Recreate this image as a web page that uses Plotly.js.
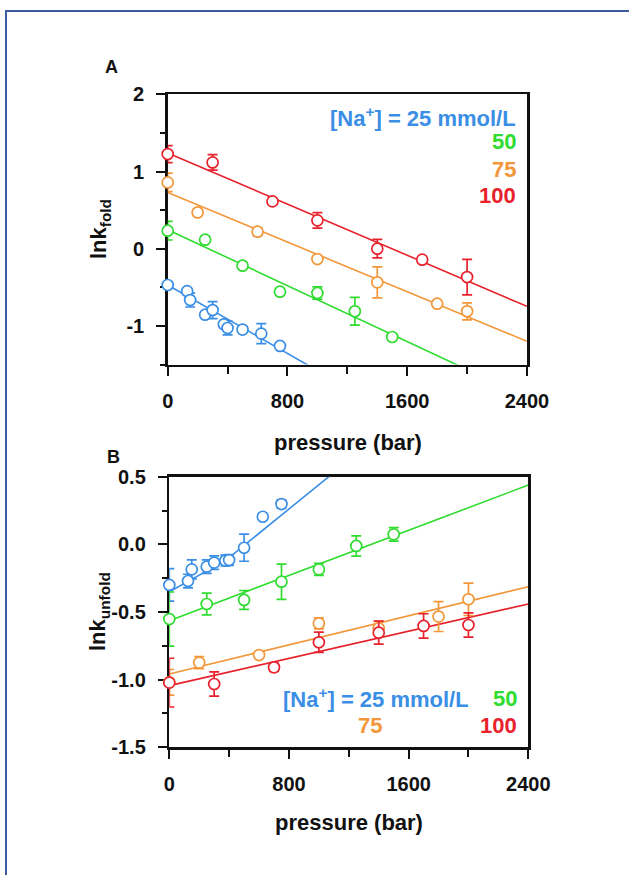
<!DOCTYPE html>
<html>
<head>
<meta charset="utf-8">
<script src="https://cdn.plot.ly/plotly-3.0.1.min.js"></script>
<style>
  html, body { margin: 0; padding: 0; background: #fff; }
  #chart { width: 629px; height: 875px; }
</style>
</head>
<body>
<div id="chart"></div>
<script>
// ---------- Panel A: ln k_fold ----------
const a25_x = [0, 130, 150, 250, 300, 375, 400, 500, 625, 750];
const a25_y = [-0.47, -0.55, -0.665, -0.855, -0.795, -0.98, -1.027, -1.048, -1.10, -1.26];
const a25_e = [0.04, 0.04, 0.09, 0.03, 0.11, 0.04, 0.09, 0.03, 0.13, 0.04];

const a50_x = [0, 250, 500, 750, 1000, 1250, 1500];
const a50_y = [0.233, 0.117, -0.22, -0.557, -0.574, -0.811, -1.144];
const a50_e = [0.12, 0.04, 0.02, 0.02, 0.08, 0.18, 0.02];

const a75_x = [0, 200, 600, 1000, 1400, 1800, 2000];
const a75_y = [0.859, 0.47, 0.22, -0.134, -0.436, -0.712, -0.811];
const a75_e = [0.12, 0.04, 0.05, 0.02, 0.20, 0.02, 0.11];

const a100_x = [0, 300, 700, 1000, 1400, 1700, 2000];
const a100_y = [1.226, 1.118, 0.613, 0.367, 0.0, -0.142, -0.367];
const a100_e = [0.11, 0.10, 0.04, 0.10, 0.12, 0.03, 0.23];

// fit lines, panel A
const fitA_x = [0, 2400];
const fitA25_y = [-0.47, -3.13];
const fitA50_y = [0.246, -1.928];
const fitA75_y = [0.729, -1.2];
const fitA100_y = [1.239, -0.747];

// ---------- Panel B: ln k_unfold ----------
const b25_x = [0, 125, 150, 250, 300, 375, 400, 500, 625, 750];
const b25_y = [-0.30, -0.271, -0.185, -0.165, -0.135, -0.12, -0.116, -0.025, 0.204, 0.298];
const b25_e = [0.12, 0.05, 0.07, 0.05, 0.05, 0.04, 0.04, 0.10, 0.02, 0.03];

const b50_x = [0, 250, 500, 750, 1000, 1250, 1500];
const b50_y = [-0.552, -0.441, -0.411, -0.276, -0.185, -0.012, 0.074];
const b50_e = [0.20, 0.08, 0.07, 0.13, 0.045, 0.075, 0.05];

const b75_x = [0, 200, 600, 1000, 1400, 1800, 2000];
const b75_y = [-1.02, -0.874, -0.818, -0.584, -0.62, -0.534, -0.406];
const b75_e = [0.095, 0.045, 0.02, 0.04, 0.05, 0.11, 0.12];

const b100_x = [0, 300, 700, 1000, 1400, 1700, 2000];
const b100_y = [-1.022, -1.032, -0.909, -0.724, -0.653, -0.603, -0.596];
const b100_e = [0.18, 0.09, 0.03, 0.075, 0.085, 0.09, 0.09];

// fit lines, panel B
const fitB_x = [0, 2400];
const fitB25_x = [0, 375, 1200];
const fitB25_y = [-0.35, -0.12, 0.62];
const fitB50_y = [-0.564, 0.438];
const fitB75_y = [-0.958, -0.313];
const fitB100_y = [-1.044, -0.441];

// tick labels
const xTickVals = [0, 800, 1600, 2400];
const xTickText = ['0', '800', '1600', '2400'];
const yATickVals = [-1, 0, 1, 2];
const yATickText = ['-1', '0', '1', '2'];
const yBTickVals = [-1.5, -1.0, -0.5, 0.0, 0.5];
const yBTickText = ['-1.5', '-1.0', '-0.5', '0.0', '0.5'];

const legendA = ['[Na<sup>+</sup>] = 25 mmol/L', '50', '75', '100'];
const legendB = ['[Na<sup>+</sup>] = 25 mmol/L', '50', '75', '100'];

// ---------- styles ----------
const C25 = '#3a8ee6', C50 = '#2fdc2f', C75 = '#f2973a', C100 = '#e8222c';
const FONT = 'Liberation Sans, Arial, Helvetica, sans-serif';
const W = 629, H = 875;
const px = v => v / W;
const py = v => 1 - v / H;

function fit(x, y, color, xa, ya) {
  return { x: x, y: y, xaxis: xa, yaxis: ya, type: 'scatter', mode: 'lines',
    line: { color: color, width: 1.6 }, hoverinfo: 'skip', showlegend: false };
}
function pts(x, y, e, color, xa, ya) {
  return { x: x, y: y, xaxis: xa, yaxis: ya, type: 'scatter', mode: 'markers',
    cliponaxis: false,
    marker: { symbol: 'circle', size: 11, color: '#ffffff', line: { color: color, width: 1.7 } },
    error_y: { type: 'data', array: e, visible: true, color: color, thickness: 1.7, width: 5 },
    showlegend: false };
}

const traces = [
  fit(fitA_x, fitA25_y, C25, 'x', 'y'),
  fit(fitA_x, fitA50_y, C50, 'x', 'y'),
  fit(fitA_x, fitA75_y, C75, 'x', 'y'),
  fit(fitA_x, fitA100_y, C100, 'x', 'y'),
  pts(a25_x, a25_y, a25_e, C25, 'x', 'y'),
  pts(a50_x, a50_y, a50_e, C50, 'x', 'y'),
  pts(a75_x, a75_y, a75_e, C75, 'x', 'y'),
  pts(a100_x, a100_y, a100_e, C100, 'x', 'y'),
  fit(fitB25_x, fitB25_y, C25, 'x2', 'y2'),
  fit(fitB_x, fitB50_y, C50, 'x2', 'y2'),
  fit(fitB_x, fitB75_y, C75, 'x2', 'y2'),
  fit(fitB_x, fitB100_y, C100, 'x2', 'y2'),
  pts(b25_x, b25_y, b25_e, C25, 'x2', 'y2'),
  pts(b50_x, b50_y, b50_e, C50, 'x2', 'y2'),
  pts(b75_x, b75_y, b75_e, C75, 'x2', 'y2'),
  pts(b100_x, b100_y, b100_e, C100, 'x2', 'y2')
];

const tickFont = { family: FONT, size: 20, color: '#111', weight: 'bold' };
function xAxis(domain, anchor) {
  return { domain: domain, anchor: anchor, range: [0, 2400], showgrid: false, zeroline: false,
    showline: true, linecolor: '#111', linewidth: 2.5, mirror: true, layer: 'below traces',
    ticks: 'outside', ticklen: 9, tickwidth: 2, tickcolor: '#111',
    tickmode: 'array', tickvals: xTickVals, ticktext: xTickText, tickfont: tickFont,
    ticklabelstandoff: 8,
    minor: { dtick: 400, tick0: 0, ticks: 'outside', ticklen: 7, tickwidth: 2, tickcolor: '#111', showgrid: false },
    fixedrange: true };
}
function yAxis(domain, anchor, range, vals, text, minorDtick) {
  return { domain: domain, anchor: anchor, range: range, showgrid: false, zeroline: false,
    showline: true, linecolor: '#111', linewidth: 2.5, mirror: true, layer: 'below traces',
    ticks: 'outside', ticklen: 9, tickwidth: 2, tickcolor: '#111',
    tickmode: 'array', tickvals: vals, ticktext: text, tickfont: tickFont,
    ticklabelstandoff: 8,
    minor: { dtick: minorDtick, tick0: 0, ticks: 'outside', ticklen: 5, tickwidth: 2, tickcolor: '#111', showgrid: false },
    fixedrange: true };
}

function ann(text, x, y, color, xanchor, size, angle) {
  const a = { text: text, xref: 'paper', yref: 'paper', x: px(x), y: py(y), xanchor: xanchor, yanchor: 'middle',
    showarrow: false, font: { family: FONT, size: size, color: color, weight: 'bold' } };
  if (angle !== undefined) a.textangle = angle;
  return a;
}

const layout = {
  width: W, height: H,
  margin: { l: 0, r: 0, t: 0, b: 0 },
  paper_bgcolor: '#ffffff', plot_bgcolor: '#ffffff',
  showlegend: false,
  xaxis: xAxis([px(167.7), px(527)], 'y'),
  yaxis: yAxis([py(364.5), py(94.3)], 'x', [-1.5, 2], yATickVals, yATickText, 0.5),
  xaxis2: xAxis([px(169.3), px(528.3)], 'y2'),
  yaxis2: yAxis([py(747.3), py(476.7)], 'x2', [-1.5, 0.5], yBTickVals, yBTickText, 0.25),
  annotations: [
    ann('A', 112, 67, '#111', 'center', 18),
    ann('B', 113, 457, '#111', 'center', 18),
    ann('pressure (bar)', 348, 442, '#111', 'center', 22),
    ann('pressure (bar)', 349, 822, '#111', 'center', 22),
    ann('lnk<sub>fold</sub>', 100, 229, '#111', 'center', 22, -90),
    ann('lnk<sub>unfold</sub>', 99, 612, '#111', 'center', 22, -90),
    ann(legendA[0], 518, 117, C25, 'right', 22),
    ann(legendA[1], 518, 142, C50, 'right', 22),
    ann(legendA[2], 518, 169.5, C75, 'right', 22),
    ann(legendA[3], 518, 196, C100, 'right', 22),
    ann(legendB[0], 471, 698, C25, 'right', 22),
    ann(legendB[1], 519, 698, C50, 'right', 22),
    ann(legendB[2], 370, 725, C75, 'center', 22),
    ann(legendB[3], 519, 725, C100, 'right', 22)
  ],
  shapes: [
    { type: 'rect', xref: 'paper', yref: 'paper', x0: px(6), x1: 1.05, y0: -0.05, y1: py(11),
      line: { color: '#3b5ca0', width: 2 }, fillcolor: 'rgba(0,0,0,0)', layer: 'below' }
  ]
};

Plotly.newPlot('chart', traces, layout, { displayModeBar: false, staticPlot: true });
</script>
</body>
</html>
